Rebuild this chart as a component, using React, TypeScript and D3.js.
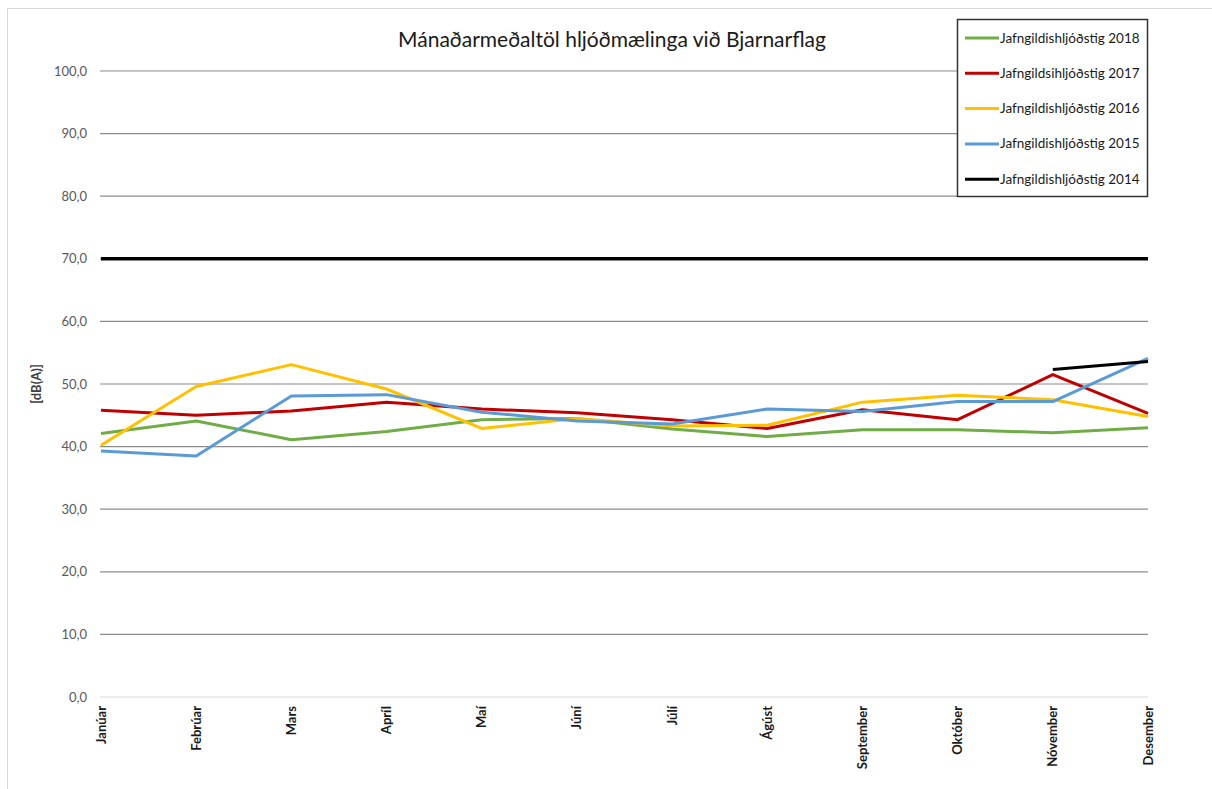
import React from "react";
import * as d3 from "d3";

const months = ["Janúar", "Febrúar", "Mars", "Apríl", "Maí", "Júní", "Júlí", "Ágúst", "September", "Október", "Nóvember", "Desember"];
const yTicks = [0, 10, 20, 30, 40, 50, 60, 70, 80, 90, 100];

const s2018 = [42.1, 44.1, 41.1, 42.4, 44.3, 44.5, 42.8, 41.6, 42.7, 42.7, 42.2, 43.0];
const s2017 = [45.8, 45.0, 45.7, 47.1, 46.0, 45.4, 44.3, 42.9, 45.9, 44.3, 51.5, 45.3];
const s2016 = [40.2, 49.6, 53.1, 49.2, 42.9, 44.5, 43.3, 43.4, 47.1, 48.2, 47.5, 44.8];
const s2015 = [39.3, 38.5, 48.1, 48.3, 45.5, 44.1, 43.6, 46.0, 45.6, 47.2, 47.2, 54.1];
const s2014: (number | null)[] = [null, null, null, null, null, null, null, null, null, null, 52.3, 53.6];
const limitLine = [70, 70, 70, 70, 70, 70, 70, 70, 70, 70, 70, 70];

const seriesNames = ["Jafngildishljóðstig 2018", "Jafngildsihljóðstig 2017", "Jafngildishljóðstig 2016", "Jafngildishljóðstig 2015", "Jafngildishljóðstig 2014"];
const seriesColors = ["#70ad47", "#c00000", "#ffc000", "#5b9bd5", "#000000"];
const seriesData: (number | null)[][] = [s2018, s2017, s2016, s2015, s2014];

export default function App() {
  const W = 1212, H = 789;
  const x = d3.scalePoint<string>().domain(months).range([101, 1148]);
  const y = d3.scaleLinear().domain([0, 100]).range([697, 71]);
  const line = d3
    .line<number | null>()
    .defined((d) => d != null)
    .x((_, i) => x(months[i]) as number)
    .y((d) => y(d as number));
  const font = "Lato, 'Open Sans', sans-serif";

  return (
    <svg width={W} height={H} style={{ position: "absolute", left: 0, top: 0, background: "#fff" }}>
      <rect x={7.5} y={8.5} width={1220} height={800} fill="#fff" stroke="#d9d9d9" strokeWidth={1} />
      <text x={612} y={47} textAnchor="middle" fontFamily={font} fontSize={21} fill="#1a1a1a">
        Mánaðarmeðaltöl hljóðmælinga við Bjarnarflag
      </text>
      {yTicks.map((t) => (
        <g key={t}>
          <line x1={100} x2={1148} y1={y(t)} y2={y(t)} stroke={t === 0 ? "#d9d9d9" : "#8c8c8c"} strokeWidth={1.2} />
          <text x={87} y={y(t) + 4.5} textAnchor="end" fontFamily={font} fontSize={13} fill="#595959">
            {d3.format(".1f")(t).replace(".", ",")}
          </text>
        </g>
      ))}
      <text transform={`translate(41,384) rotate(-90)`} textAnchor="middle" fontFamily={font} fontSize={13} fontWeight="bold" fill="#404040">
        [dB(A)]
      </text>
      {months.map((m) => (
        <text key={m} transform={`translate(${(x(m) as number) + 4.5},706) rotate(-90)`} textAnchor="end" fontFamily={font} fontSize={13} fontWeight="bold" fill="#1a1a1a">
          {m}
        </text>
      ))}
      <path d={line(limitLine) || ""} fill="none" stroke="#000" strokeWidth={3.5} />
      {seriesData.map((s, i) => (
        <path key={i} d={line(s) || ""} fill="none" stroke={seriesColors[i]} strokeWidth={3} strokeLinejoin="round" />
      ))}
      <rect x={957.5} y={19.5} width={190} height={177} fill="#fff" stroke="#333" strokeWidth={1.5} />
      {seriesNames.map((n, i) => {
        const ly = 38 + i * 35.3;
        return (
          <g key={n}>
            <line x1={965} x2={999} y1={ly} y2={ly} stroke={seriesColors[i]} strokeWidth={3} />
            <text x={1000} y={ly + 4.5} fontFamily={font} fontSize={13.5} fill="#1a1a1a">
              {n}
            </text>
          </g>
        );
      })}
    </svg>
  );
}
